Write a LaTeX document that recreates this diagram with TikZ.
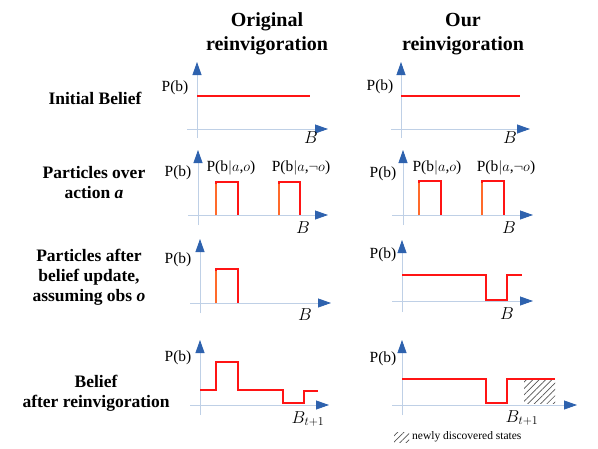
\documentclass[tikz,border=0pt]{standalone}
\usepackage{fontspec}
\setmainfont{Liberation Serif}
\usetikzlibrary{arrows.meta,patterns.meta}
\definecolor{axline}{HTML}{BFD0E6}
\definecolor{axtip}{HTML}{2E62AE}
\definecolor{bred}{HTML}{FF1414}
\definecolor{bora}{HTML}{FF6A2A}
\definecolor{hatchc}{HTML}{555555}
\tikzset{
  axis/.style={axline, line width=0.8pt},
  axarrow/.style={axis, -{Triangle[width=9pt,length=13pt,color=axtip]}},
  belief/.style={bred, line width=2.6pt, line join=miter},
  leftedge/.style={bora, line width=2.6pt},
  plab/.style={font=\fontsize{15.5}{18}\selectfont, inner sep=0pt},
  blab/.style={font=\fontsize{18}{20}\selectfont, inner sep=0pt},
  coltitle/.style={font=\fontsize{20}{24}\selectfont\bfseries, align=center, inner sep=0pt},
  rowlab/.style={font=\fontsize{17.5}{20}\selectfont\bfseries, align=center, inner sep=0pt},
  hatch/.style={pattern={Lines[angle=45,distance=4.5pt,line width=0.7pt]}, pattern color=hatchc},
}
\begin{document}
\begin{tikzpicture}[x=1pt,y=-1pt]
\useasboundingbox (0,0) rectangle (598,448);

% column titles
\node[coltitle] (t1) at (267,34) {Original\\reinvigoration};
\node[coltitle] (t2) at (463,34) {Our\\reinvigoration};

% row labels
\node[rowlab] (r1) at (95,98) {Initial Belief};
\node[rowlab] (r2) at (94,183) {Particles over\\action \textit{a}};
\node[rowlab] (r3) at (89,277) {Particles after\\belief update,\\assuming obs \textit{o}};
\node[rowlab] (r4) at (96,393) {Belief\\after reinvigoration};

% ===== Row 1 =====
\draw[axarrow] (197,138) -- (197,62);
\draw[axarrow] (187,129) -- (328,129);
\draw[belief] (197,96) -- (310,96);
\node[plab] (p1l) at (175,88) {P(b)};
\node[blab] (b1l) at (311,138) {$B$};

\draw[axarrow] (401,138) -- (401,62);
\draw[axarrow] (391,129) -- (530,129);
\draw[belief] (401,96) -- (520,96);
\node[plab] (p1r) at (380,87) {P(b)};
\node[blab] (b1r) at (510,138) {$B$};

% ===== Row 2 =====
\draw[axarrow] (198,225) -- (198,150);
\draw[axarrow] (188,215) -- (328,215);
\draw[belief] (216,215) -- (216,182) -- (238,182) -- (238,215);
\draw[leftedge] (216,215) -- (216,184);
\draw[belief] (279,215) -- (279,182) -- (300,182) -- (300,215);
\draw[leftedge] (279,215) -- (279,184);
\node[plab] (p2l) at (178,173) {P(b)};
\node[plab] (q2la) at (231,168) {P(b$|a$,$o$)};
\node[plab] (q2lb) at (301,168) {P(b$|a$,$\neg o$)};
\node[blab] (b2l) at (303,228) {$B$};

\draw[axarrow] (403,225) -- (403,150);
\draw[axarrow] (392,215) -- (533,215);
\draw[belief] (419,215) -- (419,181) -- (441,181) -- (441,215);
\draw[leftedge] (419,215) -- (419,183);
\draw[belief] (482,215) -- (482,181) -- (504,181) -- (504,215);
\draw[leftedge] (482,215) -- (482,183);
\node[plab] (p2r) at (383,174) {P(b)};
\node[plab] (q2ra) at (437,168) {P(b$|a$,$o$)};
\node[plab] (q2rb) at (506,168) {P(b$|a$,$\neg o$)};
\node[blab] (b2r) at (509,228) {$B$};

% ===== Row 3 =====
\draw[axarrow] (200,313) -- (200,239);
\draw[axarrow] (190,303) -- (331,303);
\draw[belief] (216,303) -- (216,269) -- (238,269) -- (238,303);
\draw[leftedge] (216,303) -- (216,271);
\node[plab] (p3l) at (178,260) {P(b)};
\node[blab] (b3l) at (305,315) {$B$};

\draw[axarrow] (402,312) -- (402,240);
\draw[axarrow] (392,301) -- (533,301);
\draw[belief] (402,275) -- (486,275) -- (486,300) -- (507,300) -- (507,275) -- (522,275);
\node[plab] (p3r) at (383,255) {P(b)};
\node[blab] (b3r) at (507,314) {$B$};

% ===== Row 4 =====
\draw[axarrow] (200,415) -- (200,340);
\draw[axarrow] (190,405) -- (329,405);
\draw[belief] (200,390) -- (216,390) -- (216,362) -- (238,362) -- (238,390) -- (283,390) -- (283,403) -- (304,403) -- (304,391) -- (318,391);
\node[plab] (p4l) at (178,358) {P(b)};
\node[blab] (b4l) at (308,419) {$B_{t+1}$};

\draw[axarrow] (402,415) -- (402,340);
\draw[axarrow] (392,405) -- (577,405);
\fill[hatch] (524,380) rectangle (555,403);
\draw[belief] (402,379) -- (486,379) -- (486,403) -- (507,403) -- (507,379) -- (555,379);
\node[plab] (p4r) at (383,359) {P(b)};
\node[blab] (b4r) at (522,418) {$B_{t+1}$};

% legend
\fill[hatch] (394,432) rectangle (409,442);
\node[font=\fontsize{11.5}{13}\selectfont, anchor=west, inner sep=0pt] (leg) at (412,437) {newly discovered states};
\end{tikzpicture}
\end{document}
